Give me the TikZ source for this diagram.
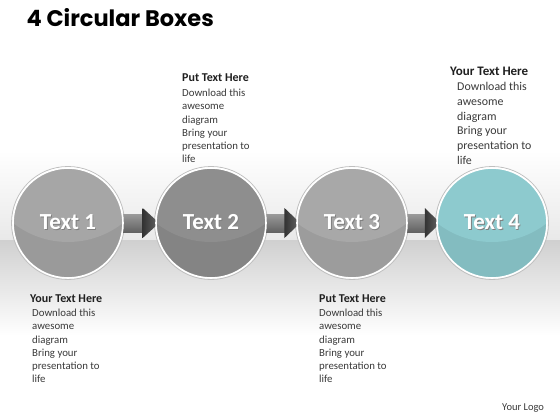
\documentclass[tikz,border=0pt]{standalone}
\usepackage{fontspec}
\setmainfont{Carlito}
\newfontfamily\titlefont{Poppins}
\usetikzlibrary{calc}
\definecolor{ink}{HTML}{1F1F1F}
\definecolor{bodytxt}{HTML}{3A3A3A}
\definecolor{bgtop}{HTML}{E9E9E9}
\definecolor{bgband}{HTML}{D0D0D0}
\definecolor{grayA}{HTML}{A6A6A6}
\definecolor{grayB}{HTML}{8E8E8E}
\definecolor{grayC}{HTML}{A8A8A8}
\definecolor{teal}{HTML}{8DCACE}
\definecolor{shafthi}{HTML}{9A9A9A}
\definecolor{shaftlo}{HTML}{626262}
\definecolor{tipdark}{HTML}{333333}
\definecolor{tiplight}{HTML}{676767}
\pgfdeclarelayer{back}
\pgfdeclarelayer{links}
\pgfsetlayers{back,links,main}
\newcommand{\shadowed}[1]{\makebox[0pt][l]{\hspace{0.9pt}\raisebox{-1pt}{\textcolor{black!50}{#1}}}#1}
\tikzset{
  circ/.style={circle, minimum size=110pt, inner sep=0pt, fill=#1, draw=white, line width=1.6pt,
    path picture={
      \fill[#1!93!black] (path picture bounding box.south west) rectangle (path picture bounding box.north east);
      \fill[#1] ($(path picture bounding box.center)+(0,70pt)$) circle (89pt);
    },
    text=white, font=\fontsize{23}{27}\selectfont\bfseries},
  ring/.style={circle, minimum size=113pt, inner sep=0pt, draw=black!25, line width=0.8pt},
  head/.style={text=ink, font=\fontsize{12}{14}\selectfont\bfseries, inner sep=0pt, anchor=base west},
  txt/.style={text=bodytxt, font=\fontsize{10.8}{13.2}\selectfont, align=left, inner sep=0pt, anchor=north west},
  headbig/.style={head, font=\fontsize{13}{15}\selectfont\bfseries},
  txtbig/.style={txt, font=\fontsize{11.9}{14.8}\selectfont},
  shaft/.style={top color=shafthi, bottom color=shaftlo},
  tip/.style={left color=tipdark, right color=tiplight},
}

\begin{document}
\begin{tikzpicture}[x=1pt, y=-1pt]
  \useasboundingbox (0,0) rectangle (560,420);
  \begin{pgfonlayer}{back}
    \fill[white] (0,0) rectangle (560,420);
    \shade[top color=white, bottom color=bgtop] (0,150) rectangle (560,240);
    \shade[top color=bgband, bottom color=white] (0,240) rectangle (560,336);
    \foreach \x in {68,211,352,492}
      \node[ring] at (\x,223) {};
  \end{pgfonlayer}

  \node[anchor=base west, text=black, font=\titlefont\bfseries\fontsize{22.5}{26}\selectfont] (title) at (23,27) {4 Circular Boxes};

  \node[circ=grayA] (c1) at (68,223) {\shadowed{Text 1}};
  \node[circ=grayB] (c2) at (211,223) {\shadowed{Text 2}};
  \node[circ=grayC] (c3) at (352,223) {\shadowed{Text 3}};
  \node[circ=teal] (c4) at (492,223) {\shadowed{Text 4}};

  \begin{pgfonlayer}{links}
    \foreach \a/\b in {c1/c2,c2/c3,c3/c4}{
      \coordinate (m) at ($(\a.east)!0.6!(\b.west)$);
      \shade[shaft] ($(\a.east)+(-3,-9)$) rectangle ($(m)+(0.5,9)$);
      \shade[tip] ($(m)+(0,-15)$) -- ($(\b.west)+(4,0)$) -- ($(m)+(0,15)$) -- cycle;
    }
  \end{pgfonlayer}

  \node[head] (h2) at (182,81.5) {Put Text Here};
  \node[txt] (t2) at (182,89) {Download this\\awesome\\diagram\\Bring your\\presentation to\\life};

  \node[headbig] (h4) at (450,76) {Your Text Here};
  \node[txtbig] (t4) at (457,82) {Download this\\awesome\\diagram\\Bring your\\presentation to\\life};

  \node[head] (h1) at (30,302.5) {Your Text Here};
  \node[txt] (t1) at (32,309) {Download this\\awesome\\diagram\\Bring your\\presentation to\\life};

  \node[head] (h3) at (319,302.5) {Put Text Here};
  \node[txt] (t3) at (319,309) {Download this\\awesome\\diagram\\Bring your\\presentation to\\life};

  \node[anchor=base west, inner sep=0pt, text=bodytxt, font=\fontsize{10.5}{12}\selectfont] (logo) at (502,410.5) {Your Logo};
\end{tikzpicture}
\end{document}
